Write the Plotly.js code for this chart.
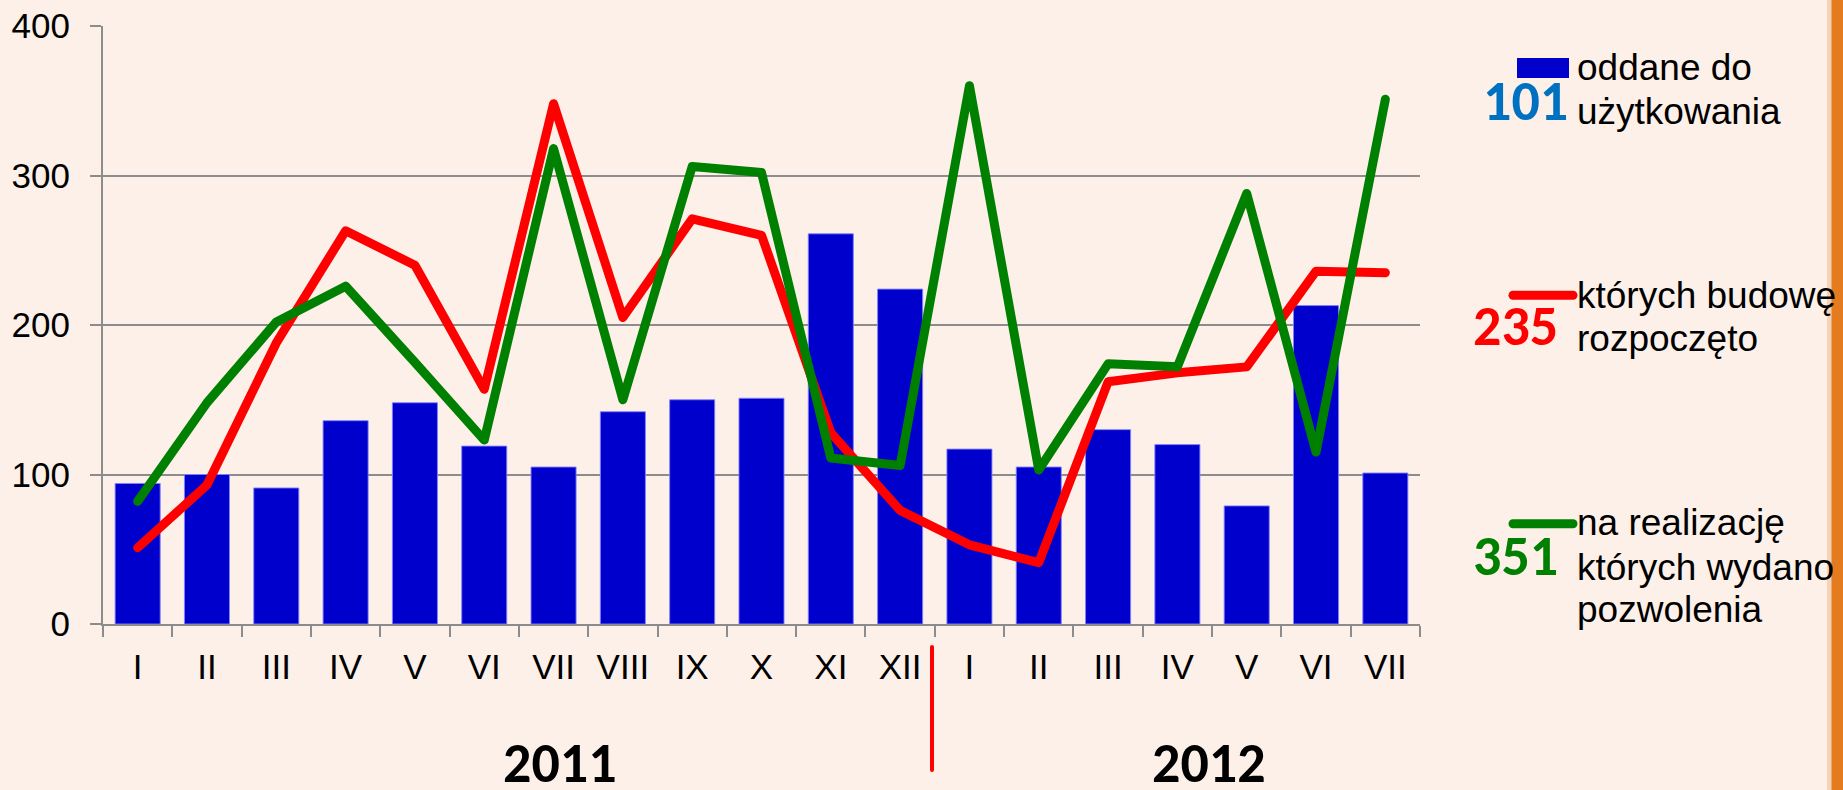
<!DOCTYPE html>
<html>
<head>
<meta charset="utf-8">
<script src="https://cdn.plot.ly/plotly-3.0.1.min.js"></script>
<style>
  html, body { margin: 0; padding: 0; background: #FDF0E8; }
  #chart { width: 1843px; height: 790px; }
  .js-line { stroke-linejoin: round !important; stroke-linecap: round !important; }
  .shapelayer path { stroke-linecap: round !important; }
</style>
</head>
<body>
<div id="chart"></div>
<script>
// ---- data ----
const months = ['I','II','III','IV','V','VI','VII','VIII','IX','X','XI','XII','I','II','III','IV','V','VI','VII'];
const years = ['2011', '2012'];
const oddane = [94,100,91,136,148,119,105,142,150,151,261,224,117,105,130,120,79,213,101];
const rozpoczete = [51,93,188,263,240,157,348,205,271,260,128,76,53,41,162,168,172,236,235];
const pozwolenia = [82,148,202,226,175,123,318,150,306,302,111,106,360,103,174,172,288,115,351];
const labelOddane = ['oddane do', 'użytkowania'];
const labelRozp = ['których budowę', 'rozpoczęto'];
const labelPozw = ['na realizację', 'których wydano', 'pozwolenia'];

// ---- layout helpers (pixel -> paper) ----
const W = 1843, H = 790;
const ML = 103, MR = W - 1420, MT = 26, MB = 166;
const PW = W - ML - MR, PH = H - MT - MB;
const X = px => (px - ML) / PW;
const Y = py => (H - MB - py) / PH;

const xs = months.map((_, i) => i);
const blue = '#0000CC', red = '#FF0000', green = '#008000';
const grey = '#8c8c8c';
const arial = 'Liberation Sans, Arial, sans-serif';
const boldNum = 'Carlito, Lato, sans-serif';

const traces = [
  { type: 'bar', x: xs, y: oddane, marker: { color: blue, line: { color: 'rgba(130,130,255,0.9)', width: 1 } }, hoverinfo: 'skip' },
  { type: 'scatter', mode: 'lines', x: xs, y: rozpoczete, line: { color: red, width: 9 }, hoverinfo: 'skip' },
  { type: 'scatter', mode: 'lines', x: xs, y: pozwolenia, line: { color: green, width: 9 }, hoverinfo: 'skip' }
];

const boundaries = months.map((_, i) => i - 0.5).concat([months.length - 0.5]);

function txt(text, px, pyMid, size, color, anchor, family, bold) {
  return {
    text: bold ? '<b>' + text + '</b>' : text,
    x: X(px), y: Y(pyMid), xref: 'paper', yref: 'paper',
    xanchor: anchor, yanchor: 'middle', showarrow: false,
    font: { family: family, size: size, color: color }
  };
}

const A = 37, midA = 0.3465 * A;
const N = 56, midN = 0.34 * N;
const YR = 56, midYR = 0.34 * YR;
const annotations = [
  txt(String(oddane[oddane.length - 1]), 1570, 120 - midN, N, '#0070C0', 'right', boldNum, true),
  txt(labelOddane[0], 1575, 80 - midA, A, '#000', 'left', arial, false),
  txt(labelOddane[1], 1575, 124 - midA, A, '#000', 'left', arial, false),
  txt(String(rozpoczete[rozpoczete.length - 1]), 1560, 345 - midN, N, red, 'right', boldNum, true),
  txt(labelRozp[0], 1575, 308.3 - midA, A, '#000', 'left', arial, false),
  txt(labelRozp[1], 1575, 351.7 - midA, A, '#000', 'left', arial, false),
  txt(String(pozwolenia[pozwolenia.length - 1]), 1560, 575.3 - midN, N, green, 'right', boldNum, true),
  txt(labelPozw[0], 1575, 535.3 - midA, A, '#000', 'left', arial, false),
  txt(labelPozw[1], 1575, 580.3 - midA, A, '#000', 'left', arial, false),
  txt(labelPozw[2], 1575, 622 - midA, A, '#000', 'left', arial, false),
  txt(years[0], 560, 782 - midYR, YR, '#000', 'center', boldNum, true),
  txt(years[1], 1208.6, 782 - midYR, YR, '#000', 'center', boldNum, true)
];

const shapes = [
  // legend swatches
  { type: 'rect', xref: 'paper', yref: 'paper', x0: X(1517), x1: X(1569), y0: Y(78), y1: Y(58), fillcolor: blue, line: { width: 0 } },
  { type: 'line', xref: 'paper', yref: 'paper', x0: X(1513), x1: X(1573), y0: Y(295.3), y1: Y(295.3), line: { color: red, width: 9 } },
  { type: 'line', xref: 'paper', yref: 'paper', x0: X(1513), x1: X(1573), y0: Y(523.7), y1: Y(523.7), line: { color: green, width: 9 } },
  // year separator
  { type: 'line', xref: 'paper', yref: 'paper', x0: X(932), x1: X(932), y0: Y(647), y1: Y(770), line: { color: red, width: 4 } },
  // orange frame edge
  { type: 'rect', xref: 'paper', yref: 'paper', x0: X(1827), x1: X(1832), y0: Y(0), y1: Y(H), fillcolor: '#F4D2B6', line: { width: 0 } },
  { type: 'rect', xref: 'paper', yref: 'paper', x0: X(1831.5), x1: X(1850), y0: Y(0), y1: Y(H), fillcolor: '#E47B1F', line: { width: 0 } }
];

const layout = {
  width: W, height: H,
  margin: { l: ML, r: MR, t: MT, b: MB, pad: 0 },
  paper_bgcolor: '#FDF0E8', plot_bgcolor: '#FDF0E8',
  showlegend: false,
  bargap: 0.35,
  xaxis: {
    range: [-0.5, months.length - 0.5],
    tickmode: 'array', tickvals: xs, ticktext: months,
    ticks: '', ticklabelstandoff: 11,
    tickfont: { family: arial, size: 35, color: '#000' },
    showline: true, linecolor: grey, linewidth: 2,
    showgrid: false, zeroline: false,
    minor: { tickmode: 'array', tickvals: boundaries, ticks: 'outside', ticklen: 11, tickwidth: 2, tickcolor: grey, showgrid: false }
  },
  yaxis: {
    range: [0, 400],
    tickmode: 'array', tickvals: [0, 100, 200, 300, 400],
    ticks: 'outside', ticklen: 11, tickwidth: 2, tickcolor: grey,
    ticklabelstandoff: 13,
    tickfont: { family: arial, size: 35, color: '#000' },
    showline: true, linecolor: grey, linewidth: 2,
    showgrid: true, gridcolor: grey, gridwidth: 2, zeroline: false
  },
  annotations: annotations,
  shapes: shapes
};

Plotly.newPlot('chart', traces, layout, { staticPlot: true, displayModeBar: false });
</script>
</body>
</html>
